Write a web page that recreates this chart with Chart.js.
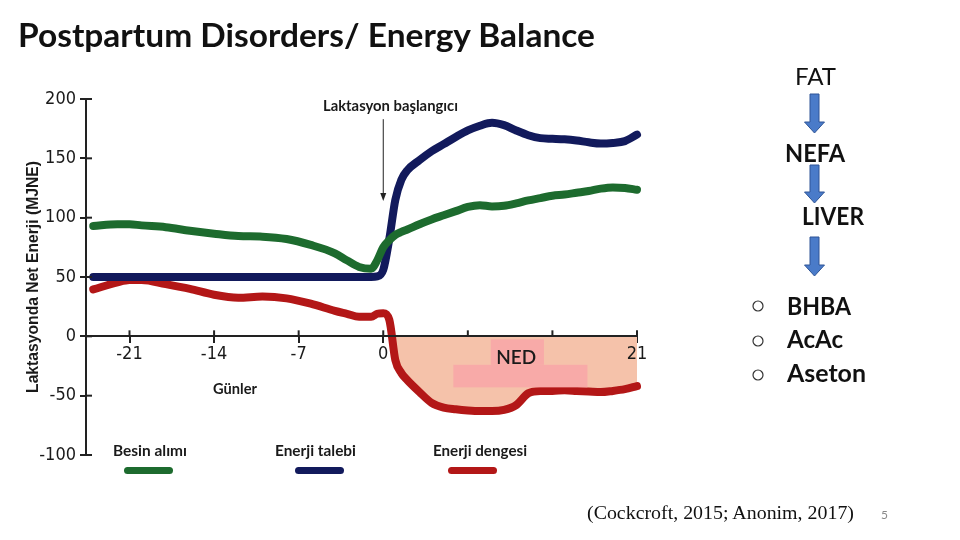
<!DOCTYPE html>
<html>
<head>
<meta charset="utf-8">
<script src="https://cdn.jsdelivr.net/npm/chart.js@4/dist/chart.umd.min.js"></script>
<style>
  html, body { margin:0; padding:0; background:#fff; }
  #wrap { position:relative; width:960px; height:540px; overflow:hidden; background:#fff; }
  #c { position:absolute; left:0; top:0; }
  .t { position:absolute; white-space:nowrap; line-height:1; font-family:Lato, "Open Sans", sans-serif; color:#111; transform-origin:left center; }
  .b { font-weight:700; }
  .sw { position:absolute; height:7px; border-radius:4px; }
  svg.ov { position:absolute; left:0; top:0; }
</style>
</head>
<body>
<div id="wrap">
  <canvas id="c" width="960" height="540"></canvas>

  <div class="t b" style="left:18px;top:18.6px;font-size:32px;" data-w="577">Postpartum Disorders/ Energy Balance</div>

  <div class="t b" style="left:323px;top:97.7px;font-size:15px;color:#1a1a1a;" data-w="135">Laktasyon başlangıcı</div>
  <div class="t b" style="left:213px;top:380px;font-size:16px;color:#1a1a1a;" data-w="44">Günler</div>

  <div class="t b" style="left:113px;top:441.8px;font-size:16px;color:#1a1a1a;" data-w="74">Besin alımı</div>
  <div class="t b" style="left:275px;top:441.8px;font-size:16px;color:#1a1a1a;" data-w="81">Enerji talebi</div>
  <div class="t b" style="left:433px;top:441.8px;font-size:16px;color:#1a1a1a;" data-w="94">Enerji dengesi</div>
  <div class="sw" id="sw0" style="left:124px;top:467px;width:49px;"></div>
  <div class="sw" id="sw1" style="left:295px;top:467px;width:49px;"></div>
  <div class="sw" id="sw2" style="left:448px;top:467px;width:49px;"></div>

  <div class="t" style="left:795px;top:63.7px;font-size:24px;" data-w="41">FAT</div>
  <div class="t b" style="left:785px;top:140.7px;font-size:24px;" data-w="60">NEFA</div>
  <div class="t b" style="left:802px;top:203.7px;font-size:24px;" data-w="62">LIVER</div>
  <div class="t b" style="left:787px;top:293.7px;font-size:24px;" data-w="64">BHBA</div>
  <div class="t b" style="left:787px;top:327px;font-size:24px;" data-w="56">AcAc</div>
  <div class="t b" style="left:787px;top:360.7px;font-size:24px;" data-w="79">Aseton</div>

  <svg class="ov" width="960" height="540">
    <g fill="#4a7bc9" stroke="#2f5597" stroke-width="1">
      <path d="M810,94 L819,94 L819,122 L824.5,122 L814.5,133 L804.5,122 L810,122 Z"/>
      <path d="M810,165 L819,165 L819,192 L824.5,192 L814.5,203 L804.5,192 L810,192 Z"/>
      <path d="M810,237 L819,237 L819,265 L824.5,265 L814.5,276 L804.5,265 L810,265 Z"/>
    </g>
    <g fill="none" stroke="#333" stroke-width="1.2">
      <circle cx="758" cy="306" r="5"/>
      <circle cx="758" cy="341" r="5"/>
      <circle cx="758" cy="375" r="5"/>
    </g>
  </svg>

  <div class="t" style="left:587px;top:504px;font-size:18px;font-family:'Liberation Serif','DejaVu Serif',serif;" data-w="267">(Cockcroft, 2015; Anonim, 2017)</div>
  <div class="t" style="left:881px;top:509px;font-size:12px;color:#8a8a8a;font-family:Lato,sans-serif;">5</div>
</div>

<script>
// ---- data ----
const days    = [-24,-22,-21,-20,-18,-16,-14,-12,-10,-8,-6,-4,-3,-2,-1,-0.5,0,0.5,1,1.5,2,3,4,5,6,7,8,9,10,11,12,13,14,15,16,17,18,19,20,21];
const intake  = [93,94.5,94.5,93.5,92,89,86.5,84.5,84,82,77,70,64,58.5,57,64,75,81,85.5,88,90,94.5,98.5,102,105.5,109,110.5,109.5,110,112,114.5,116.5,118.5,119.5,121,122.5,124.5,125.5,125,123.5];
const demand  = [50,50,50,50,50,50,50,50,50,50,50,50,50,50,50,50.5,56,82,115,132,140,148.5,156,162,168,173.5,177.5,180,178,173.5,169.5,167,166.5,166,165,163.5,162.5,163,164.5,170];
const balance = [39.5,45.5,47.5,47.5,44,40,35,32.5,33.5,32,27.5,21.5,19,16.5,16.5,19,19.5,14,-20,-31,-37,-47,-56,-60,-61.5,-62.5,-63,-63,-62,-58,-48,-46,-46,-45.5,-46,-46.5,-47,-46,-44.5,-42];
const seriesNames = ['Besin alımı', 'Enerji talebi', 'Enerji dengesi'];
const xTicks  = [-21,-14,-7,0,7,14,21];
const xLabels = [-21,-14,-7,0,21];
const yTicks  = [-100,-50,0,50,100,150,200];
const nedLabel = 'NED';
const yTitle  = 'Laktasyonda Net Enerji (MJNE)';

// ---- styles ----
const colors = ['#1d6b2e', '#121a5c', '#b31717'];
const fillColor = '#f5c2aa';
const nedBoxColor = '#f8aaa8';
const axisColor = '#222';
const tickFont = { family: "'Liberation Sans Narrow','DejaVu Sans Condensed','Liberation Sans',sans-serif", size: 18 };

colors.forEach((c,i) => document.getElementById('sw'+i).style.background = c);

const pts = arr => arr.map((v,i) => ({x: days[i], y: v}));

const decor = {
  id: 'decor',
  afterDatasetsDraw(chart) {
    const {ctx, scales:{x, y}} = chart;
    ctx.save();
    ctx.fillStyle = nedBoxColor;
    const r1 = [x.getPixelForValue(8.9), y.getPixelForValue(-2.5), x.getPixelForValue(13.3), y.getPixelForValue(-24)];
    const r2 = [x.getPixelForValue(5.8), y.getPixelForValue(-24), x.getPixelForValue(16.9), y.getPixelForValue(-43)];
    ctx.fillRect(r1[0], r1[1], r1[2]-r1[0], r1[3]-r1[1]);
    ctx.fillRect(r2[0], r2[1], r2[2]-r2[0], r2[3]-r2[1]);
    ctx.fillStyle = '#1a1a1a';
    ctx.font = "600 19px Lato, 'Open Sans', sans-serif";
    ctx.textAlign = 'center';
    ctx.textBaseline = 'middle';
    ctx.fillText(nedLabel, x.getPixelForValue(11), y.getPixelForValue(-18));
    ctx.restore();
  },
  afterDraw(chart) {
    const {ctx, scales:{x, y}} = chart;
    ctx.save();
    ctx.strokeStyle = axisColor;
    ctx.lineWidth = 2;
    const y0 = y.getPixelForValue(0);
    x.ticks.forEach(t => {
      const px = x.getPixelForValue(t.value);
      ctx.beginPath(); ctx.moveTo(px, y0 - 6); ctx.lineTo(px, y0); ctx.stroke();
    });
    y.ticks.forEach(t => {
      const py = y.getPixelForValue(t.value);
      ctx.beginPath(); ctx.moveTo(x.left, py); ctx.lineTo(x.left + 6, py); ctx.stroke();
    });
    const ax = x.getPixelForValue(0);
    const a1 = y.getPixelForValue(183), a2 = y.getPixelForValue(114);
    ctx.strokeStyle = '#222'; ctx.lineWidth = 1;
    ctx.beginPath(); ctx.moveTo(ax, a1); ctx.lineTo(ax, a2 - 7); ctx.stroke();
    ctx.fillStyle = '#222';
    ctx.beginPath(); ctx.moveTo(ax - 3, a2 - 8); ctx.lineTo(ax + 3, a2 - 8); ctx.lineTo(ax, a2); ctx.closePath(); ctx.fill();
    ctx.restore();
  }
};

const lineStyle = { borderWidth: 8, pointRadius: 0, cubicInterpolationMode: 'monotone', borderCapStyle: 'round', borderJoinStyle: 'round', clip: false };

new Chart(document.getElementById('c'), {
  type: 'line',
  data: {
    datasets: [
      Object.assign({ label: seriesNames[0], data: pts(intake), borderColor: colors[0], fill: false }, lineStyle),
      Object.assign({ label: seriesNames[1], data: pts(demand), borderColor: colors[1], fill: false }, lineStyle),
      Object.assign({ label: seriesNames[2], data: pts(balance), borderColor: colors[2],
        fill: { target: 'origin', above: 'rgba(0,0,0,0)', below: fillColor } }, lineStyle)
    ]
  },
  options: {
    responsive: false,
    animation: false,
    devicePixelRatio: 1,
    layout: { padding: { left: 24, top: 99, right: 323, bottom: 85 } },
    plugins: { legend: { display: false }, tooltip: { enabled: false } },
    scales: {
      x: {
        type: 'linear', min: -24.6, max: 21,
        position: { y: 0 },
        afterBuildTicks: s => { s.ticks = xTicks.map(v => ({ value: v })); },
        ticks: { z: 1, autoSkip: false, maxRotation: 0, padding: 1, color: '#1a1a1a', font: tickFont,
                 callback: v => xLabels.includes(v) ? String(v) : '' },
        grid: { drawOnChartArea: false, drawTicks: true, tickLength: 6, color: axisColor, lineWidth: 2 },
        border: { z: 1, color: axisColor, width: 2 }
      },
      y: {
        type: 'linear', min: -100, max: 200,
        afterBuildTicks: s => { s.ticks = yTicks.map(v => ({ value: v })); },
        afterFit: s => { s.width = 62; },
        ticks: { padding: 4, color: '#1a1a1a', font: tickFont },
        grid: { drawOnChartArea: false, drawTicks: true, tickLength: 6, color: axisColor, lineWidth: 2 },
        border: { color: axisColor, width: 2 },
        title: { display: true, text: yTitle, color: '#1a1a1a', padding: { top: 0, bottom: 0 },
                 font: { family: "'Liberation Sans', Arial, sans-serif", size: 15.7, weight: 'bold' } }
      }
    }
  },
  plugins: [decor]
});

document.querySelectorAll('[data-w]').forEach(el => {
  const w = el.getBoundingClientRect().width;
  if (w > 0) el.style.transform = 'scaleX(' + (parseFloat(el.dataset.w) / w) + ')';
});
</script>
</body>
</html>
